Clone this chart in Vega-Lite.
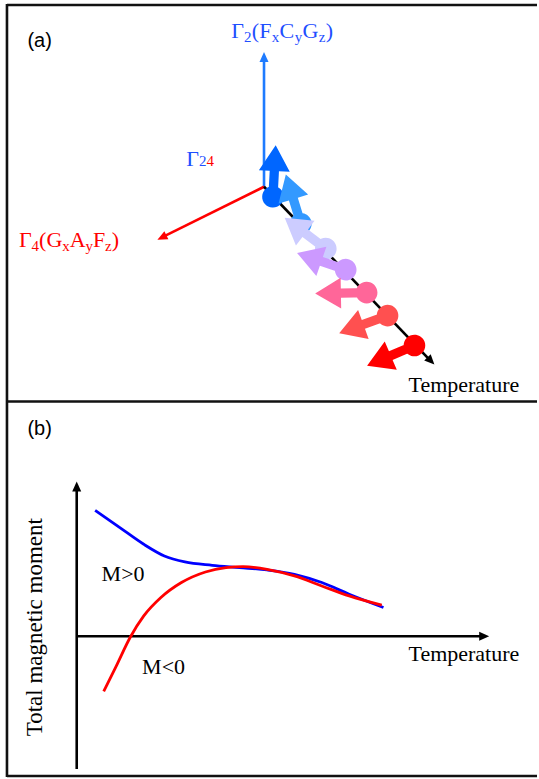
{
  "$schema": "https://vega.github.io/schema/vega-lite/v6.json",
  "width": 539,
  "height": 779,
  "padding": 0,
  "autosize": {"type": "fit", "contains": "padding"},
  "background": "white",
  "config": {"view": {"stroke": null}},
  "datasets": {
    "frame": [
      {"x": 7, "y": 5, "x2": 539, "y2": 5},
      {"x": 7, "y": 4, "x2": 7, "y2": 778},
      {"x": 7, "y": 402, "x2": 539, "y2": 402},
      {"x": 7, "y": 777, "x2": 539, "y2": 777}
    ],
    "axes": [
      {"name": "G2", "x": 265, "y": 188, "x2": 265, "y2": 58},
      {"name": "G4", "x": 265, "y": 187, "x2": 163, "y2": 237.5},
      {"name": "T", "x": 265, "y": 187, "x2": 432, "y2": 361},
      {"name": "B", "x": 77, "y": 637, "x2": 485, "y2": 637},
      {"name": "B", "x": 77, "y": 770, "x2": 77, "y2": 488}
    ],
    "heads": [
      {"name": "G2", "x": 265, "y": 52, "dir": 0},
      {"name": "G4", "x": 158, "y": 240, "dir": 243.65},
      {"name": "T", "x": 436, "y": 365, "dir": 136.15},
      {"name": "B", "x": 491, "y": 637, "dir": 90},
      {"name": "B", "x": 77, "y": 482, "dir": 0}
    ],
    "moments": [
      {"step": 1, "x": 274, "y": 197, "dir": 3},
      {"step": 2, "x": 302, "y": 224, "dir": 343},
      {"step": 3, "x": 327, "y": 249, "dir": 307},
      {"step": 4, "x": 347, "y": 270, "dir": 289},
      {"step": 5, "x": 368, "y": 293, "dir": 269},
      {"step": 6, "x": 389, "y": 316, "dir": 250},
      {"step": 7, "x": 416, "y": 346, "dir": 247}
    ],
    "upper": [
      {"x": 95.5, "y": 511},
      {"x": 120.3, "y": 528.3},
      {"x": 144.3, "y": 545},
      {"x": 165, "y": 556.7},
      {"x": 185.6, "y": 562.7},
      {"x": 213, "y": 566},
      {"x": 240.5, "y": 568.3},
      {"x": 268, "y": 570.7},
      {"x": 295.5, "y": 575},
      {"x": 323, "y": 583.3},
      {"x": 350.5, "y": 595},
      {"x": 384.9, "y": 608.3}
    ],
    "lower": [
      {"x": 104.1, "y": 692.3},
      {"x": 116.8, "y": 666.7},
      {"x": 130.6, "y": 638.3},
      {"x": 144.3, "y": 616.7},
      {"x": 161.5, "y": 598.3},
      {"x": 182.1, "y": 583.3},
      {"x": 206.2, "y": 572.7},
      {"x": 226.8, "y": 568.3},
      {"x": 244, "y": 567.3},
      {"x": 268, "y": 570},
      {"x": 295.5, "y": 576.7},
      {"x": 323, "y": 586.7},
      {"x": 350.5, "y": 596.7},
      {"x": 383.2, "y": 606}
    ],
    "serif": [
      {"t": "Γ", "x": 232, "y": 38, "role": "main", "rep": "G2"},
      {"t": "2", "x": 245, "y": 42, "role": "sub", "rep": "G2"},
      {"t": "(F", "x": 252.8, "y": 38, "role": "main", "rep": "G2"},
      {"t": "x", "x": 272.8, "y": 42, "role": "sub", "rep": "G2"},
      {"t": "C", "x": 280.6, "y": 38, "role": "main", "rep": "G2"},
      {"t": "y", "x": 295.8, "y": 42, "role": "sub", "rep": "G2"},
      {"t": "G", "x": 303.6, "y": 38, "role": "main", "rep": "G2"},
      {"t": "z", "x": 320, "y": 42, "role": "sub", "rep": "G2"},
      {"t": ")", "x": 327, "y": 38, "role": "main", "rep": "G2"},
      {"t": "Γ", "x": 19, "y": 247, "role": "main", "rep": "G4"},
      {"t": "4", "x": 31.7, "y": 251, "role": "sub", "rep": "G4"},
      {"t": "(G", "x": 39.2, "y": 247, "role": "main", "rep": "G4"},
      {"t": "x", "x": 62.4, "y": 251, "role": "sub", "rep": "G4"},
      {"t": "A", "x": 69.9, "y": 247, "role": "main", "rep": "G4"},
      {"t": "y", "x": 85.8, "y": 251, "role": "sub", "rep": "G4"},
      {"t": "F", "x": 93.3, "y": 247, "role": "main", "rep": "G4"},
      {"t": "z", "x": 105.5, "y": 251, "role": "sub", "rep": "G4"},
      {"t": ")", "x": 112.2, "y": 247, "role": "main", "rep": "G4"},
      {"t": "Γ", "x": 187, "y": 166, "role": "main", "rep": "G2"},
      {"t": "2", "x": 199.7, "y": 166, "role": "sub", "rep": "G2"},
      {"t": "4", "x": 207.2, "y": 166, "role": "sub", "rep": "G4"},
      {"t": "Temperature", "x": 410, "y": 393, "role": "main", "rep": "none"},
      {"t": "Temperature", "x": 410, "y": 662, "role": "main", "rep": "none"},
      {"t": "M>0", "x": 102, "y": 582, "role": "main", "rep": "none"},
      {"t": "M<0", "x": 142.6, "y": 675, "role": "main", "rep": "none"}
    ],
    "ylabel": [{"t": "Total magnetic moment", "x": 42, "y": 628}],
    "sans": [
      {"t": "(a)", "x": 27.5, "y": 47},
      {"t": "(b)", "x": 27.5, "y": 436}
    ]
  },
  "encoding": {
    "x": {"field": "x", "type": "quantitative", "scale": {"domain": [0, 539], "nice": false, "zero": false}, "axis": null},
    "y": {"field": "y", "type": "quantitative", "scale": {"domain": [0, 779], "nice": false, "zero": false, "reverse": true}, "axis": null}
  },
  "layer": [
    {
      "data": {"name": "frame"},
      "mark": {"type": "rule", "color": "#111111", "strokeWidth": 2.6},
      "encoding": {"x2": {"field": "x2"}, "y2": {"field": "y2"}}
    },
    {
      "data": {"name": "axes"},
      "mark": {"type": "rule", "strokeWidth": 2.6},
      "encoding": {
        "x2": {"field": "x2"},
        "y2": {"field": "y2"},
        "color": {"field": "name", "type": "nominal", "scale": {"domain": ["G2", "G4", "T", "B"], "range": ["#1E7BFF", "#FF0000", "#000000", "#000000"]}, "legend": null}
      }
    },
    {
      "data": {"name": "heads"},
      "mark": {"type": "point", "filled": true, "opacity": 1, "size": 400, "shape": "M0,0 L-0.45,1 L0.45,1 Z"},
      "encoding": {
        "angle": {"field": "dir", "type": "quantitative", "scale": null},
        "color": {"field": "name", "type": "nominal", "scale": {"domain": ["G2", "G4", "T", "B"], "range": ["#1E7BFF", "#FF0000", "#000000", "#000000"]}, "legend": null}
      }
    },
    {
      "data": {"name": "upper"},
      "mark": {"type": "line", "color": "#0000FF", "strokeWidth": 2.8, "interpolate": "monotone"},
      "encoding": {}
    },
    {
      "data": {"name": "lower"},
      "mark": {"type": "line", "color": "#FF0000", "strokeWidth": 2.8, "interpolate": "monotone"},
      "encoding": {}
    },
    {
      "data": {"name": "moments"},
      "mark": {"type": "point", "filled": true, "opacity": 1, "size": 10600, "shape": "M-0.09,0 L-0.09,-0.5 L-0.3,-0.5 L0,-1 L0.3,-0.5 L0.09,-0.5 L0.09,0 Z M0.21,0 C0.21,0.116 0.116,0.21 0,0.21 C-0.116,0.21 -0.21,0.116 -0.21,0 C-0.21,-0.116 -0.116,-0.21 0,-0.21 C0.116,-0.21 0.21,-0.116 0.21,0 Z"},
      "encoding": {
        "angle": {"field": "dir", "type": "quantitative", "scale": null},
        "color": {"field": "step", "type": "ordinal", "scale": {"domain": [1, 2, 3, 4, 5, 6, 7], "range": ["#0066FF", "#3399FF", "#CCCCFF", "#CC99FF", "#FF6699", "#FF5050", "#FF0000"]}, "legend": null}
      }
    },
    {
      "data": {"name": "serif"},
      "mark": {"type": "text", "align": "left", "baseline": "alphabetic", "font": "Liberation Serif"},
      "encoding": {
        "text": {"field": "t"},
        "color": {"field": "rep", "type": "nominal", "scale": {"domain": ["G2", "G4", "none"], "range": ["#1F4FFF", "#FF0000", "#000000"]}, "legend": null},
        "size": {"field": "role", "type": "ordinal", "scale": {"domain": ["main", "sub"], "range": [22, 15]}, "legend": null}
      }
    },
    {
      "data": {"name": "ylabel"},
      "mark": {"type": "text", "align": "center", "baseline": "alphabetic", "angle": 270, "font": "Liberation Serif", "fontSize": 23, "color": "#000000"},
      "encoding": {"text": {"field": "t"}}
    },
    {
      "data": {"name": "sans"},
      "mark": {"type": "text", "align": "left", "baseline": "alphabetic", "font": "Liberation Sans", "fontSize": 20, "color": "#000000"},
      "encoding": {"text": {"field": "t"}}
    }
  ],
  "resolve": {"scale": {"color": "independent", "size": "independent"}}
}
